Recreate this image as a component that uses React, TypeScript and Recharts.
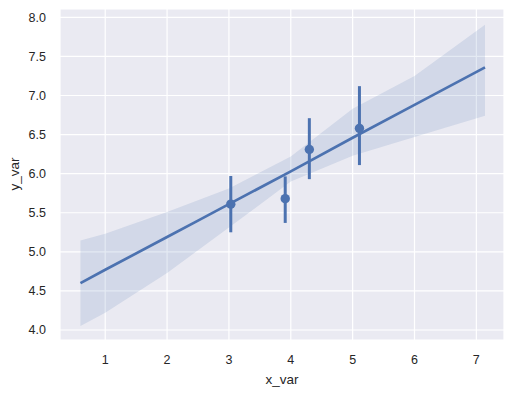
import React from "react";
import {
  ComposedChart,
  Area,
  Line,
  Scatter,
  ErrorBar,
  XAxis,
  YAxis,
  CartesianGrid,
} from "recharts";

// regression fit + bootstrap band
const bandX = [0.6, 1, 2, 2.5, 3, 4, 5, 6, 7.14];
const fitY = [4.6, 4.77, 5.19, 5.4, 5.61, 6.03, 6.46, 6.88, 7.36];
const bandLo = [4.05, 4.22, 4.73, 5.02, 5.31, 5.9, 6.23, 6.47, 6.74];
const bandHi = [5.145, 5.23, 5.51, 5.66, 5.81, 6.22, 6.83, 7.25, 7.905];

// binned estimates with their intervals
const ptX = [3.03, 3.91, 4.3, 5.11];
const ptY = [5.61, 5.68, 6.31, 6.58];
const ptLo = [5.25, 5.37, 5.93, 6.11];
const ptHi = [5.97, 5.965, 6.71, 7.12];

const xTicks = [1, 2, 3, 4, 5, 6, 7];
const yTicks = [4, 4.5, 5, 5.5, 6, 6.5, 7, 7.5, 8];

const BLUE = "#4C72B0";
const TEXT = "#262626";
const FONT = "'Liberation Sans', Arial, sans-serif";

const bandData = bandX.map((x, i) => ({
  x,
  fit: fitY[i],
  band: [bandLo[i], bandHi[i]],
}));

const pointData = ptX.map((x, i) => ({
  x,
  y: ptY[i],
  err: [ptY[i] - ptLo[i], ptHi[i] - ptY[i]],
}));

export default function App() {
  return (
    <div style={{ position: "fixed", left: 0, top: 0, width: 514, height: 395, background: "#fff" }}>
      <ComposedChart
        width={514}
        height={395}
        data={bandData}
        margin={{ top: 9, right: 10, left: 0, bottom: 0 }}
        style={{ fontFamily: FONT }}
      >
        <CartesianGrid stroke="#ffffff" strokeWidth={1.2} fill="#EAEAF2" fillOpacity={1} />
        <XAxis
          dataKey="x"
          type="number"
          domain={[0.269, 7.447]}
          allowDataOverflow
          ticks={xTicks}
          tickLine={false}
          axisLine={false}
          height={55}
          tickMargin={9}
          tick={{ fill: TEXT, fontSize: 12.5 }}
          label={{
            content: () => (
              <text x={282} y={384} textAnchor="middle" fill={TEXT} fontSize={13.5} fontFamily={FONT}>
                x_var
              </text>
            ),
          }}
        />
        <YAxis
          type="number"
          domain={[3.872, 8.107]}
          allowDataOverflow
          ticks={yTicks}
          tickFormatter={(v: number) => v.toFixed(1)}
          tickLine={false}
          axisLine={false}
          width={60}
          tickMargin={8}
          tick={{ fill: TEXT, fontSize: 12.5 }}
          label={{
            content: () => (
              <text
                x={19}
                y={174}
                transform="rotate(-90 19 174)"
                textAnchor="middle"
                fill={TEXT}
                fontSize={13.5}
                fontFamily={FONT}
              >
                y_var
              </text>
            ),
          }}
        />
        <Area
          dataKey="band"
          type="linear"
          stroke="none"
          fill={BLUE}
          fillOpacity={0.15}
          isAnimationActive={false}
          activeDot={false}
        />
        <Line
          dataKey="fit"
          type="linear"
          stroke={BLUE}
          strokeWidth={2.7}
          dot={false}
          activeDot={false}
          isAnimationActive={false}
        />
        <Scatter
          data={pointData}
          dataKey="y"
          fill={BLUE}
          isAnimationActive={false}
          shape={(p: any) => <circle cx={p.cx} cy={p.cy} r={4.7} fill={BLUE} />}
        >
          <ErrorBar dataKey="err" direction="y" width={0} stroke={BLUE} strokeWidth={3} isAnimationActive={false} />
        </Scatter>
      </ComposedChart>
    </div>
  );
}
